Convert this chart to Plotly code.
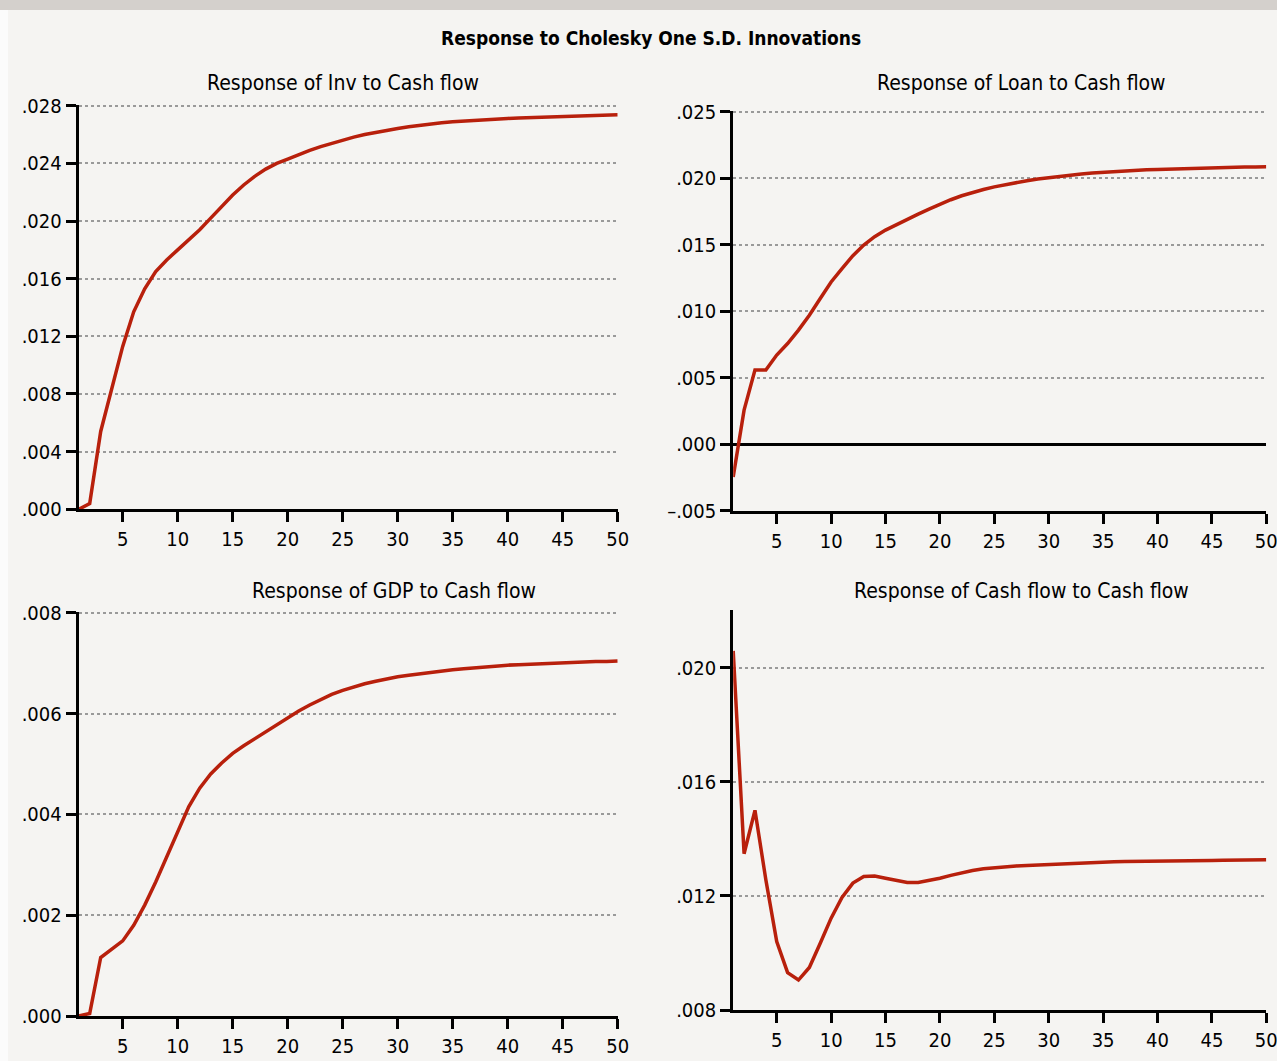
import plotly.graph_objects as go

W, H = 1277, 1061

periods = list(range(1, 51))

inv = [0.0000, 0.0004, 0.0054, 0.0083, 0.0113, 0.0137, 0.0153, 0.0165, 0.0173, 0.0180,
       0.0187, 0.0194, 0.0202, 0.0210, 0.0218, 0.0225, 0.0231, 0.0236, 0.0240, 0.0243,
       0.02462, 0.02490, 0.02516, 0.02540, 0.02562, 0.02582, 0.02600, 0.02616, 0.02630, 0.02642,
       0.02654, 0.02664, 0.02673, 0.02681, 0.02688, 0.02694, 0.02699, 0.02704, 0.02708, 0.02712,
       0.02715, 0.02718, 0.02721, 0.02724, 0.02727, 0.02729, 0.02731, 0.02733, 0.02735, 0.02737]

loan = [-0.00246, 0.00256, 0.00557, 0.00557, 0.0067, 0.00757, 0.00858, 0.0097, 0.01096, 0.0122,
        0.0132, 0.01417, 0.01497, 0.0156, 0.0161, 0.01652, 0.0169, 0.0173, 0.01768, 0.01805,
        0.01838, 0.01868, 0.01893, 0.01915, 0.01935, 0.01952, 0.01967, 0.01981, 0.01994, 0.02005,
        0.02015, 0.02024, 0.02032, 0.02039, 0.02045, 0.02050, 0.02055, 0.02059, 0.02063, 0.02066,
        0.02069, 0.02072, 0.02075, 0.02077, 0.02079, 0.02081, 0.02083, 0.02084, 0.02085, 0.02086]

gdp = [0.0, 0.00005, 0.00116, 0.00133, 0.00149, 0.0018, 0.0022, 0.00266, 0.00316, 0.00369,
       0.00415, 0.00452, 0.0048, 0.00502, 0.00521, 0.00536, 0.0055, 0.00564, 0.00578, 0.00592,
       0.00605, 0.00617, 0.00628, 0.00638, 0.00646, 0.00653, 0.00659, 0.00664, 0.00669, 0.00673,
       0.00676, 0.00679, 0.00682, 0.00685, 0.00687, 0.00689, 0.00691, 0.00693, 0.00695, 0.00696,
       0.00697, 0.00698, 0.00699, 0.0070, 0.00701, 0.00702, 0.00702, 0.00703, 0.00703, 0.00704]

cash = [0.02059, 0.01348, 0.0150, 0.01257, 0.0104, 0.00931, 0.00905, 0.00949, 0.01034, 0.01122,
        0.01195, 0.01245, 0.01268, 0.0127, 0.01262, 0.01253, 0.01247, 0.01247, 0.01253, 0.01262,
        0.01272, 0.01281, 0.01289, 0.01295, 0.01299, 0.01302, 0.01305, 0.01307, 0.01309, 0.01311,
        0.01313, 0.01315, 0.01316, 0.01318, 0.01319, 0.0132, 0.01321, 0.01321, 0.01322, 0.01322,
        0.01323, 0.01323, 0.01324, 0.01324, 0.01324, 0.01325, 0.01325, 0.01326, 0.01326, 0.01327]

x_ticks = [5, 10, 15, 20, 25, 30, 35, 40, 45, 50]

inv_ticks = [0.000, 0.004, 0.008, 0.012, 0.016, 0.020, 0.024, 0.028]
inv_labels = [".000", ".004", ".008", ".012", ".016", ".020", ".024", ".028"]
loan_ticks = [-0.005, 0.000, 0.005, 0.010, 0.015, 0.020, 0.025]
loan_labels = ["\u2013.005", ".000", ".005", ".010", ".015", ".020", ".025"]
gdp_ticks = [0.000, 0.002, 0.004, 0.006, 0.008]
gdp_labels = [".000", ".002", ".004", ".006", ".008"]
cash_ticks = [0.008, 0.012, 0.016, 0.020]
cash_labels = [".008", ".012", ".016", ".020"]

main_title = "Response to Cholesky One S.D. Innovations"
titles = ["Response of Inv to Cash flow", "Response of Loan to Cash flow",
          "Response of GDP to Cash flow", "Response of Cash flow to Cash flow"]

FONT = "DejaVu Sans Condensed, Liberation Sans, sans-serif"
BG = "#f5f4f2"
RED = "#b8200c"

def px_x(p):
    return p / W

def px_y(p):
    return 1 - p / H

panels = [
    # series, yticks, ylabels, yrange, xdom(px), ydom(px bottom, top), title center x, title y
    (inv, inv_ticks, inv_labels, [0, 0.028], (78.7, 617.7), (509.3, 105.7), 342.5, 83),
    (loan, loan_ticks, loan_labels, [-0.005, 0.025], (733.2, 1266.3), (510.7, 111.7), 1021.5, 83),
    (gdp, gdp_ticks, gdp_labels, [0, 0.008], (78.7, 617.7), (1016.0, 612.7), 393.5, 591),
    (cash, cash_ticks, cash_labels, [0.008, 0.022], (733.2, 1266.3), (1010.0, 610.7), 1021.5, 591),
]

fig = go.Figure()
layout = dict(
    width=W, height=H, autosize=False,
    margin=dict(l=0, r=0, t=0, b=0, pad=0, autoexpand=False),
    paper_bgcolor=BG, plot_bgcolor=BG,
    showlegend=False,
    font=dict(family=FONT, size=20, color="black"),
    shapes=[
        dict(type="rect", xref="paper", yref="paper", x0=0, x1=1, y0=px_y(10), y1=1,
             fillcolor="#d4d0cc", line=dict(width=0), layer="below"),
        dict(type="rect", xref="paper", yref="paper", x0=0, x1=px_x(8), y0=0, y1=px_y(10),
             fillcolor="#fbfbfb", line=dict(width=0), layer="below"),
    ],
    annotations=[
        dict(text="<b>" + main_title + "</b>", xref="paper", yref="paper",
             x=px_x(651), y=px_y(38), showarrow=False, xanchor="center", yanchor="middle",
             font=dict(family=FONT, size=19, color="black")),
    ],
)

for i, (ser, yt, yl, yr, xd, yd, tx, ty) in enumerate(panels):
    n = "" if i == 0 else str(i + 1)
    xa = "x" + n
    ya = "y" + n
    span = yr[1] - yr[0]
    pad = span * 0.003
    fig.add_trace(go.Scatter(x=periods, y=ser, mode="lines", xaxis=xa, yaxis=ya,
                             line=dict(color=RED, width=3.5), hoverinfo="skip"))
    layout["xaxis" + n] = dict(
        domain=[px_x(xd[0]), px_x(xd[1])], anchor=ya, range=[1, 50], automargin=False,
        ticklabeloverflow="allow",
        tickmode="array", tickvals=x_ticks, ticks="outside", ticklen=10, tickwidth=2.5,
        tickcolor="black", showline=True, linecolor="black", linewidth=3,
        showgrid=False, zeroline=False, tickfont=dict(size=20, family=FONT),
    )
    layout["yaxis" + n] = dict(
        domain=[px_y(yd[0]), px_y(yd[1] - 1.2)], anchor=xa, range=[yr[0], yr[1] + pad],
        automargin=False, ticklabeloverflow="allow",
        tickmode="array", tickvals=yt, ticktext=yl, ticks="outside", ticklen=10, tickwidth=2.5,
        tickcolor="black", showline=True, linecolor="black", linewidth=3,
        showgrid=True, gridcolor="#9a9a9a", griddash="dot", gridwidth=1.5,
        zeroline=(i == 1), zerolinecolor="black", zerolinewidth=2.5,
        tickfont=dict(size=20, family=FONT),
    )
    layout["annotations"].append(dict(
        text=titles[i], xref="paper", yref="paper", x=px_x(tx), y=px_y(ty),
        showarrow=False, xanchor="center", yanchor="middle",
        font=dict(family=FONT, size=21, color="black")))

fig.update_layout(**layout)
fig.write_html("out.html", config={"displayModeBar": False},
               post_script="document.body.style.margin='0';document.body.style.overflow='hidden';")
